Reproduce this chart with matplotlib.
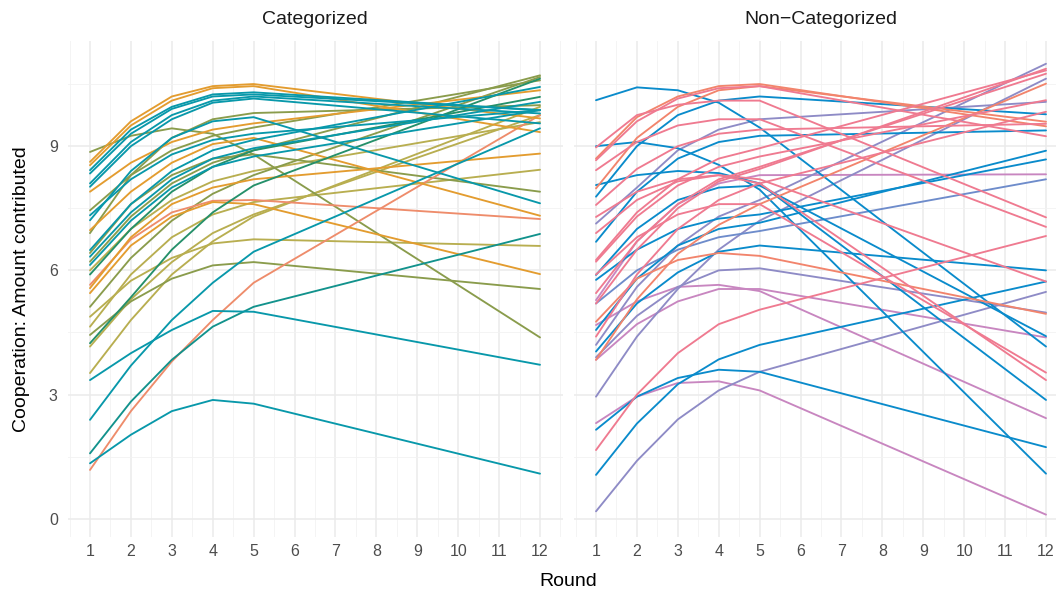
import matplotlib
matplotlib.use("Agg")
import matplotlib.pyplot as plt
from matplotlib.ticker import FixedLocator

plt.rcParams.update({
    "font.family": ["Liberation Sans", "DejaVu Sans"],
})

# rounds at which each fitted curve is sampled (linear after round 5)
ROUNDS = [1, 2, 3, 4, 5, 12]
X_TICKS = list(range(1, 13))
Y_TICKS = [0, 3, 6, 9]
PANEL_TITLES = ["Categorized", "Non\u2212Categorized"]
X_TITLE = "Round"
Y_TITLE = "Cooperation: Amount contributed"

# --- Categorized panel ---
cat_orange = [
    [8.62, 9.60, 10.20, 10.45, 10.50, 9.67],
    [8.54, 9.50, 10.10, 10.40, 10.45, 9.34],
    [7.90, 8.60, 9.10, 9.40, 9.55, 10.35],
    [6.97, 7.90, 8.60, 9.05, 9.20, 7.32],
    [5.57, 6.80, 7.60, 8.00, 8.20, 8.82],
    [5.45, 6.60, 7.30, 7.65, 7.60, 5.91],
]
cat_teal = [
    [8.42, 9.40, 9.95, 10.25, 10.30, 9.87],
    [8.34, 9.30, 9.90, 10.20, 10.25, 9.87],
    [8.10, 9.10, 9.75, 10.10, 10.20, 9.79],
    [8.02, 9.00, 9.65, 10.05, 10.15, 9.55],
    [7.33, 8.20, 8.80, 9.15, 9.30, 9.87],
    [7.21, 8.40, 9.20, 9.60, 9.70, 7.62],
    [6.49, 7.60, 8.40, 8.90, 9.15, 10.43],
    [6.33, 7.40, 8.20, 8.70, 8.95, 10.07],
    [6.13, 7.20, 8.00, 8.50, 8.75, 9.87],
    [3.35, 4.00, 4.56, 5.02, 5.00, 3.72],
    [2.39, 3.70, 4.80, 5.70, 6.45, 9.43],
    [1.34, 2.03, 2.60, 2.87, 2.78, 1.09],
]
cat_darkteal = [
    [1.58, 2.83, 3.84, 4.64, 5.12, 6.88],
]
cat_olive = [
    [8.86, 9.25, 9.43, 9.30, 8.80, 4.38],
    [7.45, 8.30, 8.90, 9.25, 9.45, 10.59],
    [6.90, 8.30, 9.20, 9.65, 9.80, 9.99],
    [6.42, 7.60, 8.30, 8.70, 8.80, 7.90],
    [6.21, 7.30, 8.10, 8.60, 8.90, 10.71],
    [5.12, 6.30, 7.20, 7.85, 8.30, 10.67],
    [4.44, 5.25, 5.80, 6.12, 6.20, 5.55],
]
cat_khaki = [
    [6.00, 7.00, 7.70, 8.15, 8.40, 9.58],
    [4.88, 5.75, 6.30, 6.65, 6.75, 6.59],
    [4.64, 5.90, 6.80, 7.35, 7.65, 8.43],
    [4.16, 5.30, 6.20, 6.90, 7.35, 9.75],
    [3.52, 4.80, 5.90, 6.70, 7.30, 9.95],
]
cat_green = [
    [5.90, 7.00, 7.90, 8.50, 8.90, 10.19],
    [4.24, 5.35, 6.50, 7.40, 8.05, 10.63],
]
cat_salmon = [
    [5.65, 6.75, 7.40, 7.68, 7.70, 7.24],
    [1.18, 2.60, 3.80, 4.80, 5.70, 9.75],
]

# --- Non-Categorized panel ---
non_blue = [
    [10.11, 10.42, 10.35, 10.05, 9.45, 4.16],
    [9.00, 9.10, 8.95, 8.55, 7.95, 1.09],
    [8.06, 8.30, 8.40, 8.35, 8.10, 2.87],
    [7.78, 9.00, 9.75, 10.10, 10.20, 9.77],
    [6.69, 7.90, 8.70, 9.10, 9.25, 9.38],
    [5.89, 7.00, 7.70, 8.00, 8.05, 4.41],
    [5.77, 6.50, 7.00, 7.25, 7.35, 8.68],
    [4.56, 5.80, 6.60, 7.00, 7.15, 8.89],
    [4.04, 5.20, 5.95, 6.45, 6.60, 6.00],
    [2.15, 2.95, 3.40, 3.60, 3.55, 1.73],
    [1.06, 2.30, 3.25, 3.85, 4.20, 5.73],
]
non_pink = [
    [8.97, 9.75, 10.00, 10.10, 10.10, 7.28],
    [8.66, 9.60, 10.15, 10.40, 10.45, 9.24],
    [8.42, 9.10, 9.50, 9.65, 9.65, 7.05],
    [7.58, 8.45, 9.00, 9.30, 9.40, 9.54],
    [7.29, 7.90, 8.20, 8.30, 8.10, 3.35],
    [6.90, 7.70, 8.15, 8.30, 8.20, 5.73],
    [6.25, 7.40, 8.20, 8.70, 8.95, 10.83],
    [6.21, 7.30, 8.05, 8.50, 8.75, 10.11],
    [5.90, 6.80, 7.35, 7.60, 7.60, 3.53],
    [5.45, 6.70, 7.60, 8.20, 8.50, 10.75],
    [5.20, 6.50, 7.50, 8.15, 8.45, 10.87],
    [4.40, 5.90, 7.00, 7.70, 8.10, 9.83],
    [1.66, 3.00, 4.00, 4.70, 5.05, 6.83],
]
non_salmon = [
    [8.70, 9.70, 10.20, 10.45, 10.50, 9.48],
    [7.98, 9.20, 9.95, 10.35, 10.45, 9.59],
    [4.76, 5.80, 6.25, 6.42, 6.35, 4.95],
    [3.84, 5.30, 6.40, 7.10, 7.60, 10.51],
]
non_lavender = [
    [7.13, 8.00, 8.90, 9.40, 9.65, 10.07],
    [4.20, 5.60, 6.60, 7.30, 7.70, 10.99],
    [2.95, 4.40, 5.55, 6.50, 7.20, 10.63],
    [3.90, 4.90, 5.60, 6.00, 6.05, 4.98],
    [0.18, 1.40, 2.40, 3.10, 3.55, 5.48],
]
non_steel = [
    [5.20, 6.00, 6.50, 6.80, 6.95, 8.20],
]
non_mauve = [
    [5.28, 6.70, 7.60, 8.10, 8.30, 8.32],
    [4.68, 5.25, 5.60, 5.65, 5.50, 2.43],
    [3.84, 4.70, 5.25, 5.55, 5.55, 4.38],
    [2.31, 2.95, 3.28, 3.32, 3.10, 0.10],
]

cat_groups = [
    (cat_khaki, "#B8AE50"),
    (cat_olive, "#8A9C4C"),
    (cat_salmon, "#EE8C6B"),
    (cat_orange, "#E39C2F"),
    (cat_green, "#25906A"),
    (cat_darkteal, "#12928C"),
    (cat_teal, "#0898AA"),
]
non_groups = [
    (non_mauve, "#C886C0"),
    (non_lavender, "#8E8BC6"),
    (non_steel, "#6E8CCB"),
    (non_blue, "#0A8BCB"),
    (non_salmon, "#F2846C"),
    (non_pink, "#EF7A90"),
]

W, H = 1056, 596
fig = plt.figure(figsize=(W / 100, H / 100), dpi=100)
fig.patch.set_facecolor("white")

AX_TOP, AX_BOT = 41, 537
AX_W = 495


def make_panel(left_px, groups, title, show_y):
    ax = fig.add_axes([left_px / W, (H - AX_BOT) / H, AX_W / W, (AX_BOT - AX_TOP) / H])
    ax.set_xlim(0.45, 12.55)
    ax.set_ylim(-0.44, 11.54)
    for spine in ax.spines.values():
        spine.set_visible(False)
    ax.xaxis.set_major_locator(FixedLocator(X_TICKS))
    ax.xaxis.set_minor_locator(FixedLocator([x + 0.5 for x in range(0, 13)]))
    ax.yaxis.set_major_locator(FixedLocator(Y_TICKS))
    ax.yaxis.set_minor_locator(FixedLocator([1.5, 4.5, 7.5, 10.5]))
    ax.grid(which="major", color="#EBEBEB", linewidth=1.1)
    ax.grid(which="minor", color="#F2F2F2", linewidth=0.6)
    ax.set_axisbelow(True)
    ax.tick_params(which="both", length=0)
    ax.tick_params(axis="x", labelsize=11.5, labelcolor="#4D4D4D", pad=5)
    ax.tick_params(axis="y", labelsize=11.5, labelcolor="#4D4D4D", pad=7)
    if not show_y:
        ax.tick_params(axis="y", labelleft=False)

    for series, color in groups:
        for vals in series:
            ax.plot(ROUNDS, vals, color=color, linewidth=1.35,
                    solid_joinstyle="round", solid_capstyle="round")

    cx = (left_px + AX_W / 2) / W
    fig.text(cx, 1 - 20 / H, title, ha="center", va="center",
             fontsize=14, color="#1A1A1A")
    return ax


make_panel(67.5, cat_groups, PANEL_TITLES[0], True)
make_panel(573.5, non_groups, PANEL_TITLES[1], False)

fig.text(568 / W, 1 - 582 / H, X_TITLE, ha="center", va="center",
         fontsize=14, color="#000000")
fig.text(22 / W, 1 - 289 / H, Y_TITLE, ha="center", va="center",
         rotation=90, fontsize=14, color="#000000")

fig.savefig("out.png", dpi=100)
